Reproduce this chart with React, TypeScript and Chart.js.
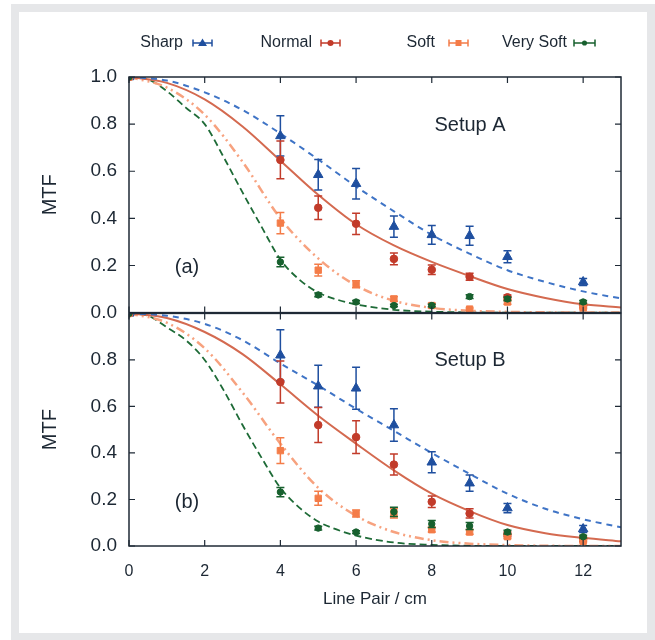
import React, { useEffect, useRef } from 'react';
import { Chart, registerables } from 'chart.js';

Chart.register(...registerables);

// ---------- data ----------
const xTickValues = [0, 2, 4, 6, 8, 10, 12];
const yTickValues = [0, 0.2, 0.4, 0.6, 0.8, 1.0];

const pointX = [0, 4, 5, 6, 7, 8, 9, 10, 12];

// Setup A measurements
const sharpA = [1.0, 0.75, 0.585, 0.547, 0.365, 0.33, 0.326, 0.237, 0.13];
const sharpAErr = [0, 0.085, 0.065, 0.065, 0.045, 0.04, 0.04, 0.025, 0.015];
const normalA = [1.0, 0.648, 0.445, 0.377, 0.228, 0.182, 0.152, 0.065, 0.03];
const normalAErr = [0, 0.08, 0.05, 0.045, 0.025, 0.02, 0.015, 0.01, 0.01];
const softA = [1.0, 0.38, 0.18, 0.12, 0.058, 0.03, 0.015, 0.045, 0.02];
const softAErr = [0, 0.045, 0.025, 0.015, 0.01, 0.01, 0.005, 0.01, 0.005];
const vsoftA = [1.0, 0.215, 0.075, 0.045, 0.03, 0.03, 0.068, 0.058, 0.045];
const vsoftAErr = [0, 0.02, 0.008, 0.006, 0.005, 0.005, 0.008, 0.008, 0.006];

// Setup B measurements
const sharpB = [1.0, 0.82, 0.687, 0.678, 0.52, 0.36, 0.27, 0.163, 0.073];
const sharpBErr = [0, 0.11, 0.09, 0.09, 0.07, 0.045, 0.035, 0.02, 0.015];
const normalB = [1.0, 0.705, 0.52, 0.468, 0.35, 0.19, 0.14, 0.05, 0.03];
const normalBErr = [0, 0.09, 0.075, 0.07, 0.045, 0.025, 0.02, 0.01, 0.01];
const softB = [1.0, 0.41, 0.205, 0.14, 0.14, 0.07, 0.06, 0.04, 0.02];
const softBErr = [0, 0.055, 0.03, 0.015, 0.02, 0.01, 0.01, 0.008, 0.005];
const vsoftB = [1.0, 0.232, 0.077, 0.06, 0.147, 0.095, 0.086, 0.06, 0.04];
const vsoftBErr = [0, 0.02, 0.008, 0.006, 0.02, 0.015, 0.015, 0.008, 0.006];

// fitted curves
const curveX = [0, 1, 2, 3, 4, 5, 6, 7, 8, 9, 10, 11, 12, 13];
const curveXFine = [0, 0.5, 1, 1.5, 2, 2.5, 3, 3.5, 4, 4.5, 5, 5.5, 6, 7, 8, 9, 10, 11, 12, 13];

const sharpFitA = [1.0, 0.985, 0.935, 0.86, 0.76, 0.65, 0.535, 0.43, 0.33, 0.25, 0.18, 0.13, 0.09, 0.06];
const normalFitA = [1.0, 0.975, 0.905, 0.79, 0.645, 0.5, 0.375, 0.285, 0.215, 0.155, 0.1, 0.062, 0.035, 0.022];
const softFitA = [1.0, 0.955, 0.84, 0.64, 0.4, 0.23, 0.115, 0.05, 0.02, 0.008, 0.003, 0.001, 0, 0];
const vsoftFitA = [1.0, 0.99, 0.94, 0.87, 0.8, 0.66, 0.51, 0.365, 0.225, 0.14, 0.085, 0.055, 0.035, 0.012, 0.004, 0.001, 0, 0, 0, 0];

const sharpFitB = [1.0, 0.99, 0.955, 0.885, 0.785, 0.69, 0.59, 0.495, 0.4, 0.31, 0.225, 0.16, 0.115, 0.08];
const normalFitB = [1.0, 0.98, 0.92, 0.825, 0.695, 0.56, 0.44, 0.325, 0.225, 0.15, 0.09, 0.055, 0.035, 0.02];
const softFitB = [1.0, 0.96, 0.85, 0.66, 0.44, 0.25, 0.13, 0.06, 0.025, 0.01, 0.004, 0.001, 0, 0];
const vsoftFitB = [1.0, 0.99, 0.94, 0.885, 0.8, 0.67, 0.52, 0.38, 0.25, 0.165, 0.105, 0.07, 0.045, 0.015, 0.005, 0.001, 0, 0, 0, 0];

const seriesNames = ['Sharp', 'Normal', 'Soft', 'Very Soft'];

// ---------- styles ----------
const FONT = '"Liberation Sans", Arial, Helvetica, sans-serif';
const TEXT = '#1c2733';
const AXIS = '#1f2a36';

const STYLE = {
  Sharp: { mark: '#1f4f9f', line: '#3f74c6', dash: [6, 5], width: 2, point: 'triangle', r: 5.5 },
  Normal: { mark: '#c23b2a', line: '#d46a50', dash: [], width: 2, point: 'circle', r: 3.8 },
  Soft: { mark: '#f47c48', line: '#f7a27f', dash: [9, 4, 2, 4, 2, 4], width: 2.5, point: 'rect', r: 4.5 },
  'Very Soft': { mark: '#17602e', line: '#1e6b37', dash: [7, 4], width: 1.8, point: 'circle', r: 3.2 },
} as Record<string, any>;

const zip = (xs: number[], ys: number[]) => xs.map((x, i) => ({ x, y: ys[i] }));

function buildDatasets(
  marks: number[][],
  errs: number[][],
  fits: number[][],
  fitXs: number[][]
) {
  const markSets: any[] = [];
  [3, 2, 1, 0].forEach((k) => {
    const s = STYLE[seriesNames[k]];
    markSets.push({
      type: 'scatter',
      label: seriesNames[k],
      data: zip(pointX, marks[k]),
      errors: errs[k],
      pointStyle: s.point,
      pointRadius: s.r,
      pointBackgroundColor: s.mark,
      pointBorderColor: s.mark,
      pointBorderWidth: 1,
      showLine: false,
      errColor: s.mark,
    });
  });
  const lineSets: any[] = [];
  [0, 1, 2, 3].forEach((k) => {
    const s = STYLE[seriesNames[k]];
    lineSets.push({
      type: 'line',
      label: seriesNames[k] + ' fit',
      data: zip(fitXs[k], fits[k]),
      borderColor: s.line,
      borderDash: s.dash,
      borderWidth: s.width,
      pointRadius: 0,
      fill: false,
      cubicInterpolationMode: 'monotone',
    });
  });
  return [...markSets, ...lineSets];
}

function decorPlugin(opts: { tag: string; title: string; tagPos: [number, number]; titlePos: [number, number]; legend: boolean }) {
  return {
    id: 'decor',
    beforeDatasetDraw(chart: any, args: any) {
      const ds = chart.data.datasets[args.index];
      if (!ds.errors) return;
      const { ctx } = chart;
      const xs = chart.scales.x;
      const ys = chart.scales.y;
      ctx.save();
      ctx.strokeStyle = ds.errColor;
      ctx.lineWidth = 1.5;
      ds.data.forEach((p: any, j: number) => {
        const e = ds.errors[j];
        if (!e) return;
        const px = xs.getPixelForValue(p.x);
        const t = ys.getPixelForValue(p.y + e);
        const b = ys.getPixelForValue(p.y - e);
        ctx.beginPath();
        ctx.moveTo(px, t);
        ctx.lineTo(px, b);
        ctx.moveTo(px - 4, t);
        ctx.lineTo(px + 4, t);
        ctx.moveTo(px - 4, b);
        ctx.lineTo(px + 4, b);
        ctx.stroke();
      });
      ctx.restore();
    },
    afterDraw(chart: any) {
      const { ctx, chartArea: a } = chart;
      const xs = chart.scales.x;
      const ys = chart.scales.y;
      ctx.save();
      ctx.strokeStyle = AXIS;
      ctx.lineWidth = 1.5;
      ctx.strokeRect(a.left, a.top, a.right - a.left, a.bottom - a.top);
      ctx.lineWidth = 1.2;
      ctx.beginPath();
      xTickValues.forEach((v) => {
        const px = xs.getPixelForValue(v);
        ctx.moveTo(px, a.bottom);
        ctx.lineTo(px, a.bottom - 6);
        ctx.moveTo(px, a.top);
        ctx.lineTo(px, a.top + 6);
      });
      yTickValues.forEach((v) => {
        const py = ys.getPixelForValue(v);
        ctx.moveTo(a.left, py);
        ctx.lineTo(a.left + 6, py);
        ctx.moveTo(a.right, py);
        ctx.lineTo(a.right - 6, py);
      });
      ctx.stroke();

      ctx.fillStyle = TEXT;
      ctx.font = `20px ${FONT}`;
      ctx.textAlign = 'center';
      ctx.textBaseline = 'middle';
      ctx.fillText(opts.title, opts.titlePos[0], opts.titlePos[1]);
      ctx.fillText(opts.tag, opts.tagPos[0], opts.tagPos[1]);

      if (opts.legend) {
        const items = [
          { name: 'Sharp', textRight: 183, sx: 193, ex: 212 },
          { name: 'Normal', textRight: 312, sx: 321, ex: 340 },
          { name: 'Soft', textRight: 435, sx: 449, ex: 468 },
          { name: 'Very Soft', textRight: 567, sx: 574, ex: 595 },
        ];
        const ly = 43;
        ctx.font = `16px ${FONT}`;
        ctx.textAlign = 'right';
        items.forEach((it) => {
          const s = STYLE[it.name];
          ctx.fillStyle = TEXT;
          ctx.fillText(it.name, it.textRight, ly);
          ctx.strokeStyle = s.mark;
          ctx.lineWidth = 1.5;
          ctx.beginPath();
          ctx.moveTo(it.sx, ly);
          ctx.lineTo(it.ex, ly);
          ctx.moveTo(it.sx, ly - 3.5);
          ctx.lineTo(it.sx, ly + 3.5);
          ctx.moveTo(it.ex, ly - 3.5);
          ctx.lineTo(it.ex, ly + 3.5);
          ctx.stroke();
          ctx.fillStyle = s.mark;
          const cx = (it.sx + it.ex) / 2;
          ctx.beginPath();
          if (s.point === 'triangle') {
            ctx.moveTo(cx, ly - 4.5);
            ctx.lineTo(cx + 4.5, ly + 3);
            ctx.lineTo(cx - 4.5, ly + 3);
            ctx.closePath();
          } else if (s.point === 'rect') {
            ctx.rect(cx - 3, ly - 3, 6, 6);
          } else {
            ctx.arc(cx, ly, s.r * 0.8, 0, Math.PI * 2);
          }
          ctx.fill();
        });
      }
      ctx.restore();
    },
  };
}

function makeOptions(isBottom: boolean): any {
  return {
    animation: false,
    responsive: false,
    devicePixelRatio: 1,
    layout: {
      padding: isBottom ? { left: 0, right: 34, top: 13, bottom: 0 } : { left: 0, right: 34, top: 77, bottom: 17 },
    },
    plugins: { legend: { display: false }, tooltip: { enabled: false } },
    scales: {
      x: {
        type: 'linear',
        min: 0,
        max: 13,
        display: isBottom,
        afterBuildTicks: (s: any) => {
          s.ticks = xTickValues.map((v) => ({ value: v }));
        },
        afterFit: (s: any) => {
          if (isBottom) s.height = 94;
        },
        grid: { display: false, drawTicks: false },
        border: { display: false },
        ticks: {
          padding: 16,
          color: TEXT,
          font: { family: FONT, size: 16 },
          callback: (v: number) => String(v),
          maxRotation: 0,
        },
        title: {
          display: true,
          text: 'Line Pair / cm',
          color: TEXT,
          font: { family: FONT, size: 17 },
          padding: { top: 0, bottom: 30 },
        },
      },
      y: {
        type: 'linear',
        min: 0,
        max: 1.0,
        afterBuildTicks: (s: any) => {
          s.ticks = yTickValues.map((v) => ({ value: v }));
        },
        afterFit: (s: any) => {
          s.width = 129;
        },
        grid: { display: false, drawTicks: false },
        border: { display: false },
        ticks: {
          padding: 12,
          color: TEXT,
          font: { family: FONT, size: 19 },
          callback: (v: number) => (isBottom && v >= 0.999 ? '' : Number(v).toFixed(1)),
        },
        title: {
          display: true,
          text: 'MTF',
          color: TEXT,
          font: { family: FONT, size: 20 },
          padding: { top: 38, bottom: 0 },
        },
      },
    },
  };
}

const TOP_H = 336;
const BOT_TOP = 290;

export default function App() {
  const topRef = useRef<HTMLCanvasElement>(null);
  const botRef = useRef<HTMLCanvasElement>(null);

  useEffect(() => {
    const top = new Chart(topRef.current as HTMLCanvasElement, {
      type: 'scatter',
      data: {
        datasets: buildDatasets(
          [sharpA, normalA, softA, vsoftA],
          [sharpAErr, normalAErr, softAErr, vsoftAErr],
          [sharpFitA, normalFitA, softFitA, vsoftFitA],
          [curveX, curveX, curveX, curveXFine]
        ),
      },
      options: makeOptions(false),
      plugins: [decorPlugin({ tag: '(a)', title: 'Setup A', tagPos: [187, 267], titlePos: [470, 125], legend: true })],
    } as any);
    const bot = new Chart(botRef.current as HTMLCanvasElement, {
      type: 'scatter',
      data: {
        datasets: buildDatasets(
          [sharpB, normalB, softB, vsoftB],
          [sharpBErr, normalBErr, softBErr, vsoftBErr],
          [sharpFitB, normalFitB, softFitB, vsoftFitB],
          [curveX, curveX, curveX, curveXFine]
        ),
      },
      options: makeOptions(true),
      plugins: [decorPlugin({ tag: '(b)', title: 'Setup B', tagPos: [187, 502 - BOT_TOP], titlePos: [470, 360 - BOT_TOP], legend: false })],
    } as any);
    return () => {
      top.destroy();
      bot.destroy();
    };
  }, []);

  return (
    <div style={{ position: 'absolute', left: 0, top: 0, width: 655, height: 640, background: '#ffffff', overflow: 'hidden' }}>
      <div style={{ position: 'absolute', left: 11, top: 4, width: 644, height: 636, background: '#e6e7e9' }} />
      <div style={{ position: 'absolute', left: 19, top: 12, width: 628, height: 621, background: '#ffffff' }} />
      <canvas ref={topRef} width={655} height={TOP_H} style={{ position: 'absolute', left: 0, top: 0, width: 655, height: TOP_H }} />
      <canvas ref={botRef} width={655} height={640 - BOT_TOP} style={{ position: 'absolute', left: 0, top: BOT_TOP, width: 655, height: 640 - BOT_TOP }} />
    </div>
  );
}
